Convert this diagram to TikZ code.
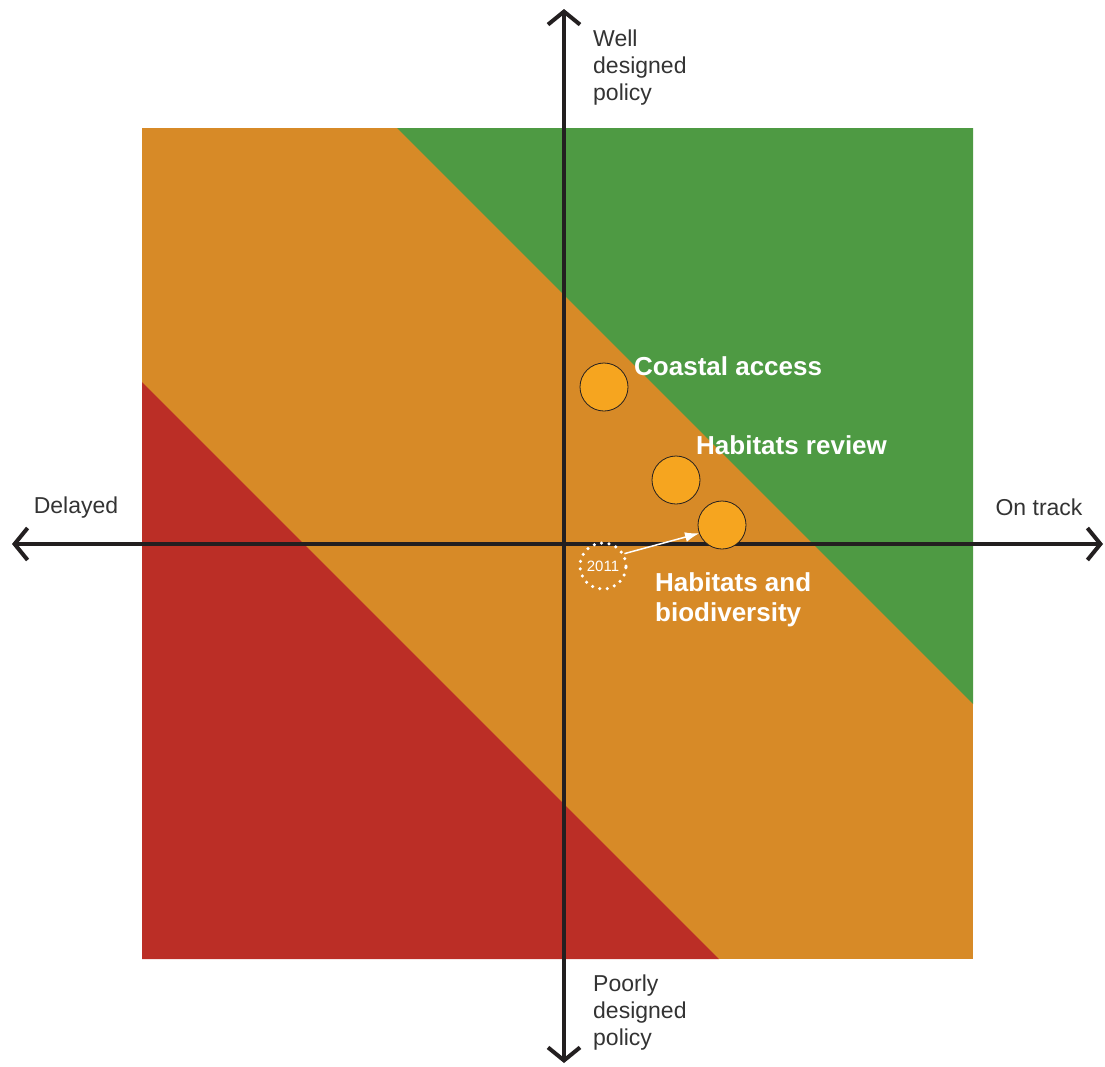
\documentclass[tikz,border=0pt]{standalone}
\usepackage{fontspec}
\setmainfont{Liberation Sans}
\usetikzlibrary{arrows.meta, positioning}
\definecolor{zoneorange}{HTML}{D78A27}
\definecolor{zonegreen}{HTML}{4E9A43}
\definecolor{zonered}{HTML}{BB2E26}
\definecolor{dotorange}{HTML}{F6A51F}
\definecolor{axisdark}{HTML}{231F20}
\definecolor{labelgrey}{HTML}{333333}

\begin{document}
\begin{tikzpicture}[x=1pt, y=-1pt,
  axis/.style={axisdark, line width=4pt, {Straight Barb[length=13pt, width=32pt]}-{Straight Barb[length=13pt, width=32pt]}},
  axislabel/.style={labelgrey, font=\fontsize{23}{27}\selectfont, align=left, inner sep=0pt},
  itemlabel/.style={white, font=\fontsize{26}{30}\selectfont\bfseries, align=left, inner sep=0pt},
  itemdot/.style={circle, draw=axisdark, line width=0.8pt, fill=dotorange, minimum size=48pt, inner sep=0pt}]
  \useasboundingbox (0,0) rectangle (1105,1066);

  % Zones
  \fill[zoneorange] (142,128) rectangle (973,959);
  \fill[zonegreen] (397,128) -- (973,128) -- (973,704) -- cycle;
  \fill[zonered] (142,382) -- (719,959) -- (142,959) -- cycle;

  % Axes
  \coordinate (xleft) at (12,544);
  \coordinate (xright) at (1103,544);
  \coordinate (ytop) at (564,9);
  \coordinate (ybottom) at (564,1063);
  \draw[axis] (xleft) -- (xright);
  \draw[axis] (ybottom) -- (ytop);

  % Axis labels
  \node[axislabel, anchor=west] (welldesigned) at (593,68) {Well\\designed\\policy};
  \node[axislabel, anchor=west] (poorlydesigned) at (593,1013) {Poorly\\designed\\policy};
  \node[axislabel] (delayed) at (76,508) {Delayed};
  \node[axislabel] (ontrack) at (1039,507) {On track};

  % Policy markers
  \node[itemdot] (coastal) at (604,387) {};
  \node[itemdot] (habrev) at (676,480) {};
  \node[itemdot] (habbio) at (722,525) {};
  \node[itemlabel, anchor=west] (coastallabel) at (634,366) {Coastal access};
  \node[itemlabel, anchor=west] (habrevlabel) at (696,445) {Habitats review};
  \node[itemlabel, anchor=west] (habbiolabel) at (655,600) {Habitats and\\biodiversity};

  % 2011 position
  \node[circle, draw=white, line width=3.5pt, dash pattern=on 0pt off 7.5pt, line cap=round,
    minimum size=46pt, inner sep=0pt, white, font=\fontsize{15}{15}\selectfont] (y2011) at (603,566) {2011};
  \draw[white, line width=1.5pt, -{Latex[length=14pt, width=10pt]}] (y2011.30) -- (habbio.200);
\end{tikzpicture}
\end{document}
